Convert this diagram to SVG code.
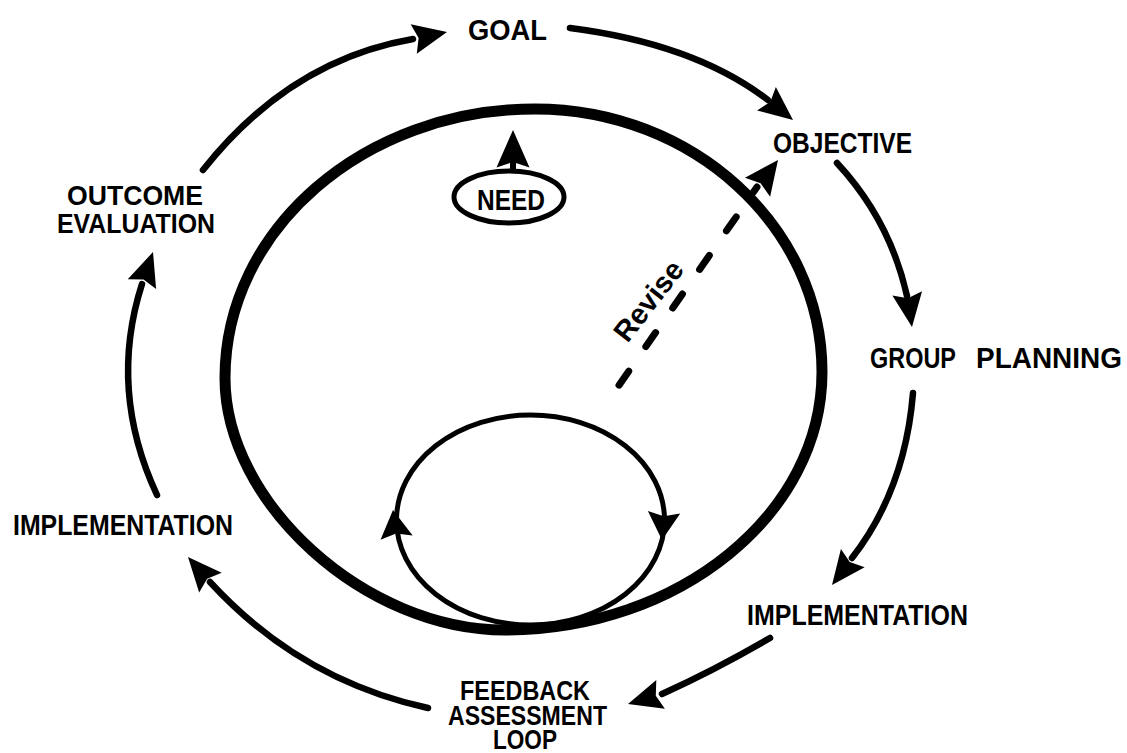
<svg xmlns="http://www.w3.org/2000/svg" xmlns:xlink="http://www.w3.org/1999/xlink" width="1127" height="753" viewBox="0 0 1127 753">
<style>
.lbl{font-family:"Liberation Sans",Arial,sans-serif;font-weight:bold;font-size:29px;fill:#000}
.stk{font-size:27px}
.arc{fill:none;stroke:#000;stroke-width:6.5;stroke-linecap:round}
.big{fill:none;stroke:#000;stroke-width:11}
.thin{fill:none;stroke:#000;stroke-width:5}
.ah{fill:#000}
</style>
<defs>
<path id="ah" d="M0,0 L-34,-15 L-29,0 L-34,15 Z"/>
</defs>
<rect width="1127" height="753" fill="#fff"/>

<g id="cycle">
<path class="big" d="M535,109 C693,109 822,227 822,372 C822,514 679,630 505,630 C365,630 225,503 225,378 C225,229 364.5,109 535,109 Z"/>
<ellipse class="thin" cx="530.5" cy="520" rx="134" ry="105"/>
</g>

<g id="goal"><text class="lbl" x="468" y="40" font-size="28" textLength="79" lengthAdjust="spacingAndGlyphs">GOAL</text></g>
<g id="objective"><text class="lbl" x="773" y="153" textLength="139" lengthAdjust="spacingAndGlyphs">OBJECTIVE</text></g>
<g id="group-planning">
<text class="lbl" x="870" y="368" textLength="86" lengthAdjust="spacingAndGlyphs">GROUP</text>
<text class="lbl" x="976" y="368" textLength="146" lengthAdjust="spacingAndGlyphs">PLANNING</text>
</g>
<g id="implementation-right"><text class="lbl" x="747" y="625" font-size="30" textLength="221" lengthAdjust="spacingAndGlyphs">IMPLEMENTATION</text></g>
<g id="feedback">
<text class="lbl stk" x="460" y="700" textLength="130" lengthAdjust="spacingAndGlyphs">FEEDBACK</text>
<text class="lbl stk" x="448" y="725" textLength="159" lengthAdjust="spacingAndGlyphs">ASSESSMENT</text>
<text class="lbl stk" x="493" y="749" textLength="64" lengthAdjust="spacingAndGlyphs">LOOP</text>
</g>
<g id="implementation-left"><text class="lbl" x="13" y="535" font-size="30" textLength="220" lengthAdjust="spacingAndGlyphs">IMPLEMENTATION</text></g>
<g id="outcome-evaluation">
<text class="lbl stk" x="67" y="205" textLength="136" lengthAdjust="spacingAndGlyphs">OUTCOME</text>
<text class="lbl stk" x="57" y="233" textLength="158" lengthAdjust="spacingAndGlyphs">EVALUATION</text>
</g>
<g id="need">
<ellipse class="thin" cx="509" cy="197" rx="55" ry="26" stroke-width="4.5"/>
<text class="lbl" x="477" y="210" font-size="30" textLength="68" lengthAdjust="spacingAndGlyphs">NEED</text>
</g>
<g id="revise">
<text class="lbl" font-size="24" text-anchor="middle" transform="translate(650,302) rotate(-52)" y="8">Revise</text>
</g>

<g id="connectors">
<path class="arc" d="M203,170 Q290,60 413,39"/>
<use xlink:href="#ah" class="ah" transform="translate(447,32) rotate(-11.8)"/>
<path class="arc" d="M570,28 Q695,44 768,100"/>
<use xlink:href="#ah" class="ah" transform="translate(793,120) rotate(38.7)"/>
<path class="arc" d="M837,163 Q890,220 907,296"/>
<use xlink:href="#ah" class="ah" transform="translate(912,327) rotate(81.9)"/>
<path class="arc" d="M913,393 Q905,490 852,558"/>
<use xlink:href="#ah" class="ah" transform="translate(832,585) rotate(127.7)"/>
<path class="arc" d="M770,638 Q715,670 662,694"/>
<use xlink:href="#ah" class="ah" transform="translate(628,704) rotate(163.4)"/>
<path class="arc" d="M428,708 Q300,680 210,582"/>
<use xlink:href="#ah" class="ah" transform="translate(188,557) rotate(-131.3)"/>
<path class="arc" d="M157,495 Q108,390 142,284"/>
<use xlink:href="#ah" class="ah" transform="translate(153,252) rotate(-71)"/>
<line x1="513" y1="160" x2="513" y2="172" stroke="#000" stroke-width="6"/>
<use xlink:href="#ah" class="ah" transform="translate(513,130) rotate(-90) scale(1.1,1.1)"/>
<use xlink:href="#ah" class="ah" transform="translate(393,510) rotate(-97.4) scale(0.82,1.08)"/>
<use xlink:href="#ah" class="ah" transform="translate(662,540) rotate(94.2) scale(0.82,1.08)"/>
<path d="M617,388 L757,187" fill="none" stroke="#000" stroke-width="7" stroke-linecap="round" stroke-dasharray="17 30" stroke-dashoffset="-3.5"/>
<use xlink:href="#ah" class="ah" transform="translate(778,160) rotate(-53) scale(1,1.05)"/>
</g>
</svg>
